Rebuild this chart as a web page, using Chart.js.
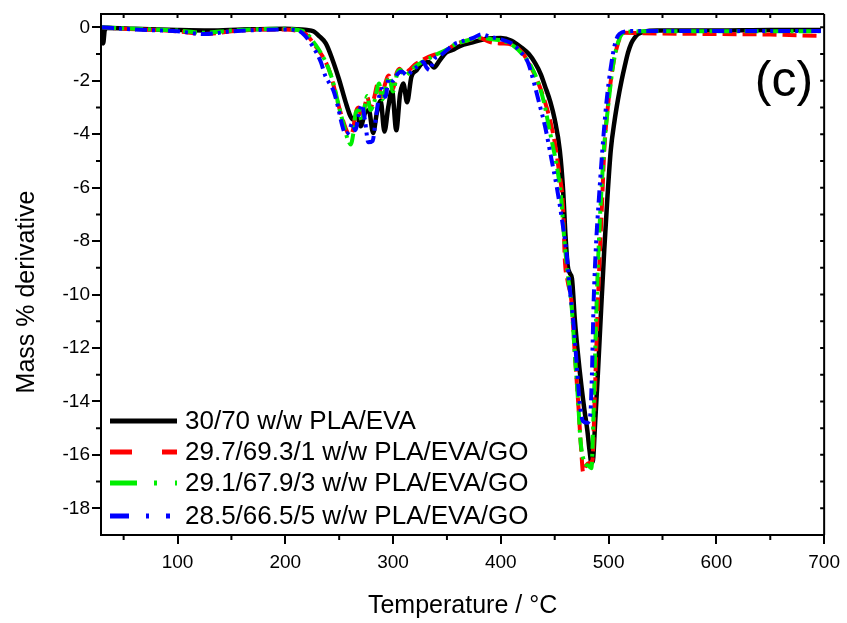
<!DOCTYPE html>
<html>
<head>
<meta charset="utf-8">
<script src="https://cdn.jsdelivr.net/npm/chart.js@4.4.1/dist/chart.umd.min.js"></script>
<style>
  body { margin: 0; background: #fff; }
  #wrap { width: 847px; height: 623px; }
</style>
</head>
<body>
<div id="wrap"><canvas id="myChart" width="847" height="623"></canvas></div>
<script>
const seriesLabels = [
  '30/70 w/w PLA/EVA',
  '29.7/69.3/1 w/w PLA/EVA/GO',
  '29.1/67.9/3 w/w PLA/EVA/GO',
  '28.5/66.5/5 w/w PLA/EVA/GO'
];

const tempBlack = [29.5, 31, 32.5, 35, 60, 100, 130, 160, 200, 215, 220, 226, 232, 237.6, 243.7, 249.9, 256, 260.7, 263, 266.5, 270, 274, 277.5, 281.5, 285, 288.5, 292, 295.5, 299, 303, 306.5, 309.5, 313, 317, 322, 327, 333, 338, 343, 349, 355, 362, 373, 388, 400, 410, 419, 426, 432, 437, 441, 446, 450, 454.7, 457.8, 460, 462, 464, 466, 468.6, 471.5, 474.7, 477.5, 480.3, 482.5, 484, 485.5, 487.5, 490, 493, 496, 499, 502, 505.5, 508.7, 512, 515, 518, 521, 524, 527, 533, 545, 600, 650, 697];
const derivBlack = [-0.05, -0.6, -0.1, -0.02, -0.05, -0.1, -0.12, -0.08, -0.05, -0.08, -0.1, -0.15, -0.35, -0.6, -1.2, -1.95, -2.8, -3.35, -3.45, -3.3, -3.7, -3.2, -3.1, -3.95, -3.2, -2.75, -3.9, -3.0, -2.35, -3.85, -2.5, -2.1, -2.8, -1.85, -1.6, -1.35, -1.3, -1.5, -1.25, -0.95, -0.85, -0.7, -0.57, -0.42, -0.4, -0.5, -0.75, -1.0, -1.35, -1.75, -2.2, -2.8, -3.45, -4.6, -6.1, -7.8, -8.9, -9.2, -9.4, -10.9, -12.2, -13.4, -14.3, -15.1, -15.9, -16.3, -16.2, -14.8, -13.0, -10.6, -8.3, -6.3, -4.6, -3.5, -2.7, -2.0, -1.45, -0.95, -0.6, -0.4, -0.26, -0.16, -0.12, -0.12, -0.1, -0.1];

const tempRed = [30, 50, 80, 100, 125, 150, 180, 200, 210, 219, 228, 237.6, 242, 245, 250, 254.5, 258, 261, 263, 265.3, 268, 271, 274, 276, 279, 282, 286, 289.5, 292, 296, 300, 303, 306, 310, 315, 320, 326, 333, 340, 348, 357, 368, 380, 390, 400, 410, 420, 428, 435, 441, 445.5, 450, 454, 457.8, 459.4, 462, 465.6, 468.6, 471.7, 474.7, 476.3, 479, 482, 485, 487, 489, 491.5, 494, 496, 500, 504, 508.7, 512, 515, 530, 600, 650, 697];
const derivRed = [0, -0.05, -0.1, -0.15, -0.25, -0.15, -0.08, -0.08, -0.12, -0.25, -0.7, -1.3, -1.75, -2.2, -3.0, -3.6, -3.95, -4.0, -3.8, -3.2, -3.0, -3.4, -2.9, -2.6, -3.0, -2.7, -2.1, -2.6, -2.2, -1.8, -2.3, -1.75, -1.55, -1.75, -1.6, -1.4, -1.25, -1.1, -1.0, -0.9, -0.65, -0.5, -0.4, -0.55, -0.6, -0.65, -0.95, -1.5, -2.1, -2.8, -3.44, -4.3, -5.4, -6.8, -8.7, -9.5, -10.3, -12.2, -14.0, -15.9, -16.65, -16.4, -16.3, -16.2, -14.0, -11.5, -8.8, -6.5, -4.6, -2.7, -1.45, -0.6, -0.3, -0.2, -0.22, -0.25, -0.27, -0.32];

const tempGreen = [30, 60, 100, 125, 150, 200, 212, 219, 228, 237.6, 242, 245.3, 250, 254.5, 258, 260.7, 263, 265.3, 268, 271, 274, 276, 279, 282.5, 287, 290, 293, 296, 300, 304, 307, 311, 316, 321, 327, 334, 341, 349, 357, 368, 380, 392, 402, 412, 420, 428, 435, 440, 444, 448, 452, 456, 459, 462, 465.6, 468.6, 471.7, 474, 478, 481, 484, 486, 488.4, 491, 493.5, 496, 500, 504, 508.7, 515, 530, 600, 697];
const derivGreen = [0, -0.05, -0.12, -0.2, -0.12, -0.05, -0.1, -0.2, -0.65, -1.3, -1.75, -2.2, -3.0, -3.7, -4.2, -4.38, -4.0, -3.2, -3.1, -3.5, -2.9, -2.57, -3.1, -2.8, -2.1, -2.7, -2.3, -1.85, -2.4, -1.7, -1.6, -1.8, -1.65, -1.45, -1.3, -1.15, -1.0, -0.85, -0.65, -0.5, -0.38, -0.45, -0.5, -0.7, -1.0, -1.45, -2.1, -2.8, -3.6, -4.4, -5.2, -6.4, -8.0, -9.2, -10.4, -12.2, -14.0, -15.5, -16.3, -16.4, -16.5, -14.5, -10.9, -8.0, -6.0, -4.4, -2.8, -1.45, -0.57, -0.18, -0.15, -0.15, -0.15];

const tempBlue = [30, 60, 100, 125, 150, 200, 212, 218, 226, 233, 237, 241, 245, 249, 253, 256, 259, 262, 265, 268, 271, 274, 277, 281, 284, 287, 290, 293, 296, 300, 304, 308, 313, 318, 323, 328, 331, 334, 338, 344, 350, 357, 366, 375, 382, 390, 400, 410, 418, 425, 431.6, 436, 441, 447, 452, 456, 460.9, 464, 467, 470, 473.2, 476.3, 480, 483, 484.5, 486.1, 488.5, 491, 494, 498, 502, 506, 510, 520, 600, 697];
const derivBlue = [0, -0.08, -0.15, -0.25, -0.15, -0.08, -0.12, -0.3, -0.75, -1.3, -1.8, -2.1, -2.4, -3.0, -3.7, -4.0, -3.9, -3.6, -3.85, -3.3, -2.9, -3.5, -4.3, -4.25, -3.4, -2.6, -2.3, -2.6, -1.9, -2.0, -1.75, -1.65, -1.8, -1.6, -1.45, -1.3, -1.5, -1.6, -1.2, -1.05, -0.85, -0.62, -0.5, -0.38, -0.26, -0.35, -0.45, -0.6, -0.9, -1.3, -2.2, -2.9, -3.7, -4.94, -6.0, -7.0, -8.43, -9.8, -10.9, -12.4, -14.05, -14.75, -14.8, -14.5, -13.0, -10.3, -8.0, -6.4, -4.7, -2.8, -1.5, -0.6, -0.25, -0.14, -0.14, -0.14];

const xTickValues = [100, 200, 300, 400, 500, 600, 700];
const xMinorValues = [50, 150, 250, 350, 450, 550, 650];
const yTickValues = [0, -2, -4, -6, -8, -10, -12, -14, -16, -18];
const yMinorValues = [-1, -3, -5, -7, -9, -11, -13, -15, -17];

const seriesColors = ['#000000', '#ff0000', '#00ee00', '#0000ff'];
const seriesDash = [[], [14, 6], [14, 5, 3, 5], [12, 5, 3, 5, 3, 5]];
const legendDash = [[], [22, 30], [27, 17, 3, 18], [19, 17, 3, 17, 4, 100]];

const pairs = (xs, ys) => xs.map((x, i) => ({ x: x, y: ys[i] }));
const seriesData = [
  pairs(tempBlack, derivBlack),
  pairs(tempRed, derivRed),
  pairs(tempGreen, derivGreen),
  pairs(tempBlue, derivBlue)
];

const FONT = "'Liberation Sans', Arial, sans-serif";
Chart.defaults.font.family = FONT;
Chart.defaults.color = '#000';

const frame = {
  id: 'frame',
  afterDraw(chart) {
    const ctx = chart.ctx;
    const a = chart.chartArea;
    const xs = chart.scales.x;
    const ys = chart.scales.y;
    ctx.save();
    ctx.strokeStyle = '#000';
    ctx.lineWidth = 2;
    ctx.beginPath();
    ctx.moveTo(a.left, a.top); ctx.lineTo(a.right, a.top);
    ctx.moveTo(a.right, a.top); ctx.lineTo(a.right, a.bottom);
    // minor ticks bottom and left, outward
    xMinorValues.forEach(v => {
      const p = xs.getPixelForValue(v);
      ctx.moveTo(p, a.bottom); ctx.lineTo(p, a.bottom + 5);
    });
    yMinorValues.forEach(v => {
      const p = ys.getPixelForValue(v);
      ctx.moveTo(a.left, p); ctx.lineTo(a.left - 5, p);
    });
    // top and right ticks, inward
    xTickValues.concat(xMinorValues).forEach(v => {
      const p = xs.getPixelForValue(v);
      ctx.moveTo(p, a.top); ctx.lineTo(p, a.top + 4);
    });
    yTickValues.concat(yMinorValues).forEach(v => {
      const p = ys.getPixelForValue(v);
      ctx.moveTo(a.right, p); ctx.lineTo(a.right - 4, p);
    });
    ctx.stroke();

    // legend
    const rows = [421, 452, 483, 516];
    rows.forEach((y, i) => {
      ctx.beginPath();
      ctx.strokeStyle = seriesColors[i];
      ctx.lineWidth = 5;
      ctx.setLineDash(legendDash[i]);
      ctx.moveTo(110, y); ctx.lineTo(177, y);
      ctx.stroke();
    });
    ctx.setLineDash([]);
    ctx.fillStyle = '#000';
    ctx.font = '26px ' + FONT;
    ctx.textAlign = 'left';
    ctx.textBaseline = 'middle';
    rows.forEach((y, i) => ctx.fillText(seriesLabels[i], 185, y + 1));

    // panel label
    ctx.font = '50px ' + FONT;
    ctx.textAlign = 'center';
    ctx.textBaseline = 'alphabetic';
    ctx.fillText('(c)', 784, 96);

    // y axis title
    ctx.translate(27, 292);
    ctx.rotate(-Math.PI / 2);
    ctx.font = '25px ' + FONT;
    ctx.textBaseline = 'middle';
    ctx.fillText('Mass % derivative', 0, 0);
    ctx.restore();
  }
};

const ctx = document.getElementById('myChart').getContext('2d');

new Chart(ctx, {
  type: 'scatter',
  data: {
    datasets: seriesData.map((d, i) => ({
      label: seriesLabels[i],
      data: d,
      showLine: true,
      borderColor: seriesColors[i],
      backgroundColor: seriesColors[i],
      borderWidth: i === 0 ? 4.5 : 4,
      borderDash: seriesDash[i],
      pointRadius: 0,
      cubicInterpolationMode: 'monotone',
      order: 3 - i
    }))
  },
  options: {
    responsive: false,
    animation: false,
    layout: { padding: { top: 14, right: 21, left: 0, bottom: 0 } },
    plugins: { legend: { display: false }, tooltip: { enabled: false } },
    scales: {
      x: {
        type: 'linear',
        min: 29,
        max: 700,
        afterBuildTicks: s => { s.ticks = xTickValues.map(v => ({ value: v })); },
        afterFit: s => { s.height = 88; },
        ticks: { font: { size: 19 }, color: '#000', padding: 7, maxRotation: 0 },
        grid: { display: true, drawOnChartArea: false, drawTicks: true, tickLength: 9, color: '#000', lineWidth: 2 },
        border: { display: true, color: '#000', width: 2 },
        title: { display: true, text: 'Temperature / °C', font: { size: 25 }, color: '#000', padding: { top: 0, bottom: 2 } }
      },
      y: {
        type: 'linear',
        min: -19,
        max: 0.5,
        afterBuildTicks: s => { s.ticks = yTickValues.map(v => ({ value: v })); },
        afterFit: s => { s.width = 101; },
        ticks: { font: { size: 19 }, color: '#000', padding: 2 },
        grid: { display: true, drawOnChartArea: false, drawTicks: true, tickLength: 9, color: '#000', lineWidth: 2 },
        border: { display: true, color: '#000', width: 2 }
      }
    }
  },
  plugins: [frame]
});
</script>
</body>
</html>
